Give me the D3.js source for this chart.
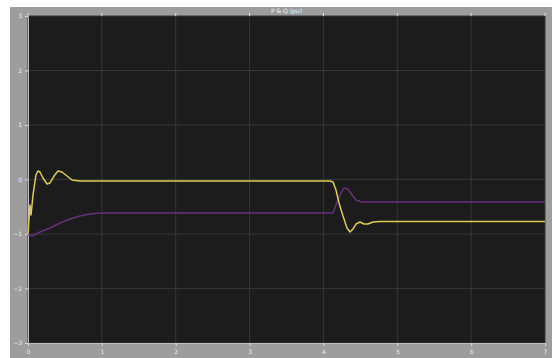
<!DOCTYPE html>
<html>
<head>
<meta charset="utf-8">
<script src="https://cdn.jsdelivr.net/npm/d3@7"></script>
<style>
  html, body { margin: 0; padding: 0; background: #ffffff; }
  svg { display: block; }
</style>
</head>
<body>
<svg id="chart" width="552" height="358"></svg>
<script>
// Scope title and axis ticks
const titleText = "P & Q (pu)";
const xTicks = [0, 1, 2, 3, 4, 5, 6, 7];
const yTicks = [-3, -2, -1, 0, 1, 2, 3];

// Signal 1 (yellow): time and value
const yellowT = [0, 0.027, 0.041, 0.068, 0.108, 0.135, 0.162, 0.203, 0.257, 0.298, 0.352, 0.406, 0.46, 0.528, 0.596, 0.704,
  4.089, 4.13, 4.17, 4.211, 4.265, 4.319, 4.36, 4.4, 4.441, 4.495, 4.549, 4.603, 4.671, 4.766, 7.0];
const yellowV = [-1.0, -0.468, -0.651, -0.284, 0.083, 0.156, 0.138, 0.028, -0.083, -0.064, 0.064, 0.156, 0.138, 0.064, -0.009, -0.028,
  -0.028, -0.046, -0.193, -0.431, -0.67, -0.89, -0.963, -0.908, -0.817, -0.78, -0.817, -0.817, -0.78, -0.771, -0.771];

// Signal 2 (purple): time and value
const purpleT = [0, 0.054, 0.162, 0.298, 0.433, 0.569, 0.704, 0.839, 0.975, 4.13, 4.17, 4.224, 4.278, 4.332, 4.387, 4.441, 4.522, 7.0];
const purpleV = [-1.0, -1.037, -0.963, -0.89, -0.798, -0.725, -0.67, -0.633, -0.615, -0.615, -0.468, -0.284, -0.156, -0.174, -0.284, -0.376, -0.413, -0.413];

const svg = d3.select("#chart");

// Figure frame
const frame = { x: 10, y: 7, w: 542, h: 351 };
const plot = { left: 28, right: 545, top: 16, bottom: 343 };

svg.append("rect")
  .attr("x", frame.x).attr("y", frame.y)
  .attr("width", frame.w).attr("height", frame.h)
  .attr("fill", "#9d9d9d");

const x = d3.scaleLinear().domain([0, 7]).range([plot.left, plot.right]);
const y = d3.scaleLinear().domain([-3, 3]).range([plot.bottom, plot.top]);

// Axes area background
svg.append("rect")
  .attr("x", plot.left).attr("y", plot.top)
  .attr("width", plot.right - plot.left).attr("height", plot.bottom - plot.top)
  .attr("fill", "#1c1c1c");

// Grid lines
const grid = svg.append("g");
grid.selectAll("line.vx").data(xTicks).join("line")
  .attr("x1", d => x(d)).attr("x2", d => x(d))
  .attr("y1", plot.top).attr("y2", plot.bottom)
  .attr("stroke", "#363636").attr("stroke-width", 1);
grid.selectAll("line.hy").data(yTicks).join("line")
  .attr("x1", plot.left).attr("x2", plot.right)
  .attr("y1", d => y(d)).attr("y2", d => y(d))
  .attr("stroke", "#363636").attr("stroke-width", 1);

// Axes with light tick labels
const xAxis = d3.axisBottom(x).tickValues(xTicks).tickSize(3).tickFormat(d3.format("d"));
const yAxis = d3.axisLeft(y).tickValues(yTicks).tickSize(3).tickFormat(d3.format("d"));

const gx = svg.append("g").attr("transform", `translate(0,${plot.bottom})`).call(xAxis);
const gy = svg.append("g").attr("transform", `translate(${plot.left},0)`).call(yAxis);
[gx, gy].forEach(g => {
  g.select(".domain").attr("stroke", "#bdbdbd");
  g.selectAll(".tick line").attr("stroke", "#dcdcdc");
  g.selectAll(".tick text")
    .attr("fill", "#eeeeee")
    .attr("font-family", "DejaVu Sans, sans-serif")
    .attr("font-size", 6);
});
gx.selectAll(".tick text").attr("dy", "0.9em");

// Top tick marks
svg.append("g").selectAll("line").data(xTicks).join("line")
  .attr("x1", d => x(d)).attr("x2", d => x(d))
  .attr("y1", plot.top).attr("y2", plot.top - 3)
  .attr("stroke", "#dcdcdc");

// Title
svg.append("text")
  .attr("x", (plot.left + plot.right) / 2).attr("y", 13)
  .attr("text-anchor", "middle")
  .attr("fill", "#f2f2f2")
  .attr("font-family", "DejaVu Sans, sans-serif")
  .attr("font-size", 6)
  .text(titleText);

// Signal traces
const line = d3.line().x(d => x(d[0])).y(d => y(d[1]));
const purpleData = d3.zip(purpleT, purpleV);
const yellowData = d3.zip(yellowT, yellowV);

svg.append("path")
  .datum(purpleData)
  .attr("d", line)
  .attr("fill", "none")
  .attr("stroke", "#6a2f7c")
  .attr("stroke-width", 1.5)
  .attr("stroke-linejoin", "round");

svg.append("path")
  .datum(yellowData)
  .attr("d", line)
  .attr("fill", "none")
  .attr("stroke", "#dccd50")
  .attr("stroke-width", 1.5)
  .attr("stroke-linejoin", "round");
</script>
</body>
</html>
